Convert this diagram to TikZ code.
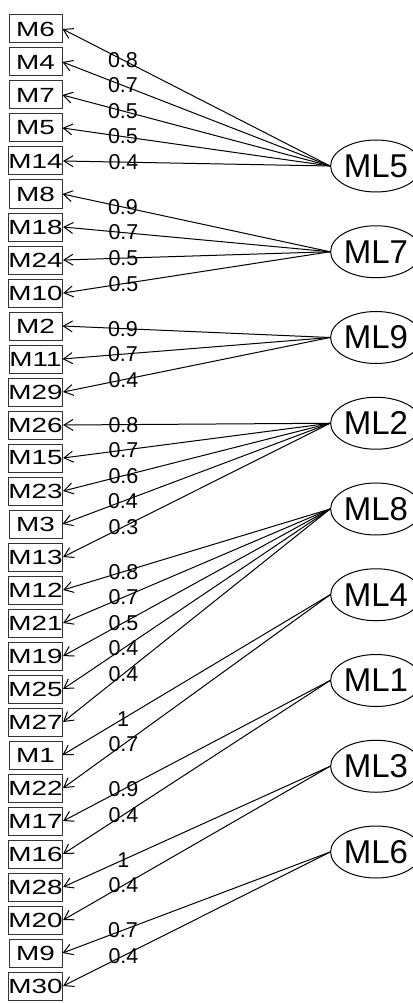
\documentclass[tikz,border=0pt]{standalone}
\usepackage{fontspec}
\usepackage{graphicx}
\setmainfont{Liberation Sans}
\usetikzlibrary{shapes.geometric,arrows.meta}
\newcommand{\mtext}[1]{\fontsize{20.5}{21}\selectfont\scalebox{1.36}[1]{#1}}
\tikzset{
  vbox/.style={draw=black!80, line width=1pt, minimum width=53pt, minimum height=28pt, inner sep=0pt},
  fac/.style={draw=black, ellipse, line width=1pt, minimum width=70pt, minimum height=52pt, inner sep=0pt, font=\fontsize{33}{36}\selectfont},
  arr/.style={line width=1pt, -{Straight Barb[length=9pt,width=11pt,line width=1pt]}},
  lab/.style={font=\fontsize{21.5}{22}\selectfont, inner sep=0pt}
}
\begin{document}
\begin{tikzpicture}[x=1pt,y=-1pt]
\useasboundingbox (0,0) rectangle (412,1003);
\foreach \n [count=\i from 0] in {M6,M4,M7,M5,M14,M8,M18,M24,M10,M2,M11,M29,M26,M15,M23,M3,M13,M12,M21,M19,M25,M27,M1,M22,M17,M16,M28,M20,M9,M30}
  \node[vbox] (\n) at (35.5,{29+33*\i}) {\mtext{\n}};
\foreach \f [count=\k from 0] in {ML5,ML7,ML9,ML2,ML8,ML4,ML1,ML3,ML6}
  \node[fac] (\f) at (376,{166+85.75*\k}) {\f};
\foreach \f/\m/\l in {ML5/M6/0.8,ML5/M4/0.7,ML5/M7/0.5,ML5/M5/0.5,ML5/M14/0.4,
  ML7/M8/0.9,ML7/M18/0.7,ML7/M24/0.5,ML7/M10/0.5,
  ML9/M2/0.9,ML9/M11/0.7,ML9/M29/0.4,
  ML2/M26/0.8,ML2/M15/0.7,ML2/M23/0.6,ML2/M3/0.4,ML2/M13/0.3,
  ML8/M12/0.8,ML8/M21/0.7,ML8/M19/0.5,ML8/M25/0.4,ML8/M27/0.4,
  ML4/M1/1,ML4/M22/0.7,
  ML1/M17/0.9,ML1/M16/0.4,
  ML3/M28/1,ML3/M20/0.4,
  ML6/M9/0.7,ML6/M30/0.4}
  \draw[arr] (\f.west) -- node[lab,pos=0.774] {\l} (\m.east);
\end{tikzpicture}
\end{document}
